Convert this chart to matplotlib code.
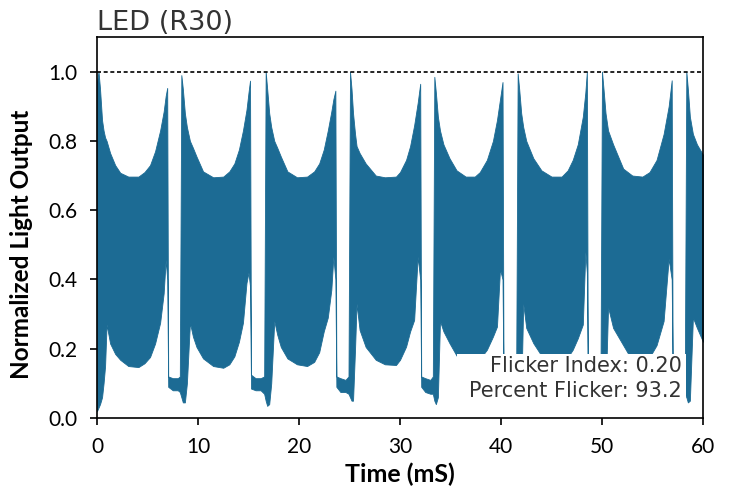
import matplotlib
matplotlib.use("Agg")
import matplotlib.pyplot as plt
from matplotlib.patches import Rectangle

# ---- data (envelope of the dense waveform) ----
time_ms = [
    0.00, 0.15, 0.30, 0.50, 0.65, 0.80, 0.95, 1.30, 1.80, 2.30, 3.10, 4.10, 4.70, 5.25, 5.75, 6.25, 6.60, 6.80, 6.95,
    7.05, 7.50, 8.00, 8.20,
    8.35, 8.50, 8.70, 8.90, 9.20, 9.50, 9.85, 10.50, 11.50, 12.50, 13.10, 13.60, 14.05, 14.45, 14.80, 15.00, 15.15,
    15.25, 15.70, 16.20, 16.55,
    16.70, 16.85, 17.05, 17.25, 17.55, 17.85, 18.20, 18.85, 19.80, 20.80, 21.50, 22.00, 22.45, 22.85, 23.20, 23.40, 23.60,
    23.70, 24.10, 24.60, 24.90,
    25.05, 25.20, 25.35, 25.55, 25.70, 26.00, 26.60, 27.60, 28.50, 29.60, 30.00, 30.60, 31.00, 31.40, 31.75, 32.00,
    32.10, 32.50, 33.00, 33.25,
    33.40, 33.55, 33.75, 33.96, 34.30, 34.90, 35.60, 36.50, 37.40, 37.90, 38.60, 39.20, 39.60, 39.90, 40.15,
    40.25, 40.70, 41.20, 41.50,
    41.65, 41.80, 42.00, 42.20, 42.50, 43.20, 44.00, 45.00, 46.00, 46.60, 47.10, 47.60, 48.10, 48.35, 48.50,
    48.60, 49.00, 49.50, 49.85,
    50.00, 50.15, 50.35, 50.60, 51.10, 52.10, 53.00, 54.00, 54.70, 55.40, 56.10, 56.60, 56.90,
    57.00, 57.50, 58.00, 58.20,
    58.35, 58.50, 58.70, 59.00, 59.40, 60.00,
]
upper_output = [
    0.97, 1.00, 0.95, 0.86, 0.83, 0.81, 0.80, 0.765, 0.73, 0.708, 0.697, 0.697, 0.71, 0.73, 0.77, 0.83, 0.885, 0.93, 0.953,
    0.12, 0.115, 0.115, 0.12,
    0.99, 0.95, 0.88, 0.84, 0.80, 0.78, 0.755, 0.712, 0.695, 0.697, 0.712, 0.735, 0.775, 0.83, 0.89, 0.94, 0.974,
    0.125, 0.115, 0.115, 0.12,
    1.00, 0.95, 0.88, 0.84, 0.80, 0.78, 0.755, 0.712, 0.695, 0.697, 0.712, 0.735, 0.775, 0.83, 0.885, 0.92, 0.945,
    0.12, 0.115, 0.11, 0.12,
    1.00, 0.95, 0.88, 0.82, 0.785, 0.765, 0.735, 0.70, 0.695, 0.697, 0.71, 0.745, 0.785, 0.845, 0.91, 0.965,
    0.12, 0.115, 0.11, 0.12,
    0.985, 0.94, 0.87, 0.83, 0.79, 0.75, 0.715, 0.697, 0.697, 0.71, 0.745, 0.80, 0.86, 0.92, 0.97,
    0.12, 0.115, 0.115, 0.12,
    0.995, 0.95, 0.88, 0.84, 0.80, 0.75, 0.715, 0.697, 0.697, 0.715, 0.745, 0.79, 0.87, 0.94, 1.00,
    0.12, 0.115, 0.115, 0.12,
    1.00, 0.95, 0.88, 0.83, 0.79, 0.72, 0.70, 0.697, 0.71, 0.745, 0.82, 0.90, 0.975,
    0.12, 0.115, 0.115, 0.12,
    1.00, 0.95, 0.87, 0.82, 0.79, 0.76,
]
lower_output = [
    0.02, 0.03, 0.04, 0.06, 0.10, 0.15, 0.27, 0.215, 0.185, 0.168, 0.15, 0.147, 0.158, 0.176, 0.215, 0.275, 0.36, 0.457, 0.40,
    0.09, 0.08, 0.08, 0.075,
    0.06, 0.045, 0.045, 0.10, 0.275, 0.235, 0.205, 0.172, 0.15, 0.145, 0.155, 0.178, 0.22, 0.275, 0.39, 0.42, 0.38,
    0.085, 0.08, 0.08, 0.07,
    0.05, 0.035, 0.04, 0.10, 0.28, 0.24, 0.205, 0.172, 0.155, 0.15, 0.162, 0.19, 0.25, 0.29, 0.37, 0.466, 0.40,
    0.09, 0.075, 0.075, 0.07,
    0.06, 0.05, 0.05, 0.20, 0.33, 0.254, 0.205, 0.168, 0.155, 0.153, 0.168, 0.206, 0.25, 0.283, 0.466, 0.40,
    0.09, 0.075, 0.07, 0.07,
    0.05, 0.04, 0.06, 0.28, 0.25, 0.216, 0.18, 0.155, 0.155, 0.17, 0.197, 0.235, 0.264, 0.43, 0.40,
    0.09, 0.08, 0.08, 0.07,
    0.06, 0.05, 0.06, 0.33, 0.26, 0.216, 0.18, 0.155, 0.155, 0.175, 0.197, 0.23, 0.27, 0.48, 0.42,
    0.09, 0.08, 0.08, 0.07,
    0.06, 0.05, 0.06, 0.32, 0.26, 0.21, 0.165, 0.155, 0.175, 0.21, 0.28, 0.46, 0.40,
    0.09, 0.08, 0.08, 0.07,
    0.06, 0.045, 0.05, 0.29, 0.26, 0.22,
]
x_ticks = [0, 10, 20, 30, 40, 50, 60]
y_ticks = [0.0, 0.2, 0.4, 0.6, 0.8, 1.0]
reference_level = 1.0
title_text = "LED (R30)"
x_label = "Time (mS)"
y_label = "Normalized Light Output"
flicker_index = "0.20"
percent_flicker = "93.2"

BLUE = "#1c6b94"
TXT = "#333333"

fig = plt.figure(figsize=(7.31, 4.91), dpi=100)
W, H = 731, 491
ax = fig.add_axes([97 / W, 1 - 418 / H, (703 - 97) / W, (418 - 37) / H])

ax.fill_between(time_ms, lower_output, upper_output, color=BLUE, edgecolor=BLUE, linewidth=0.6, zorder=2)
ax.axhline(reference_level, color="black", linewidth=1.2, linestyle=(0, (2.4, 1.6)), zorder=3)

ax.set_xlim(0, 60)
ax.set_ylim(0, 1.1)
ax.set_xticks(x_ticks)
ax.set_xticklabels([str(v) for v in x_ticks])
ax.set_yticks(y_ticks)
ax.set_yticklabels([f"{v:.1f}" for v in y_ticks])

for lab in ax.get_xticklabels() + ax.get_yticklabels():
    lab.set_fontfamily("Lato")
    lab.set_fontsize(15)
    lab.set_color("black")
ax.tick_params(axis="both", direction="out", length=5, width=1.2, color="black")
ax.tick_params(axis="y", pad=9)
ax.tick_params(axis="x", pad=9)
for sp in ax.spines.values():
    sp.set_linewidth(1.2)
    sp.set_color("black")

ax.set_xlabel(x_label, fontfamily="Lato", fontweight="bold", fontsize=18, labelpad=4)
ax.set_ylabel(y_label, fontfamily="Lato", fontweight="bold", fontsize=17.5)
ax.yaxis.set_label_coords(-0.106, 0.457)
ax.set_title(title_text, loc="left", fontfamily="DejaVu Sans", fontsize=19.5, color=TXT, pad=5)

# annotation box
ax.add_patch(Rectangle((0.594, 0.037), 0.378, 0.131, transform=ax.transAxes,
                       facecolor="white", edgecolor="none", zorder=4))
ax.text(0.965, 0.121, f"Flicker Index: {flicker_index}", transform=ax.transAxes,
        ha="right", va="baseline", fontfamily="DejaVu Sans", fontsize=15, color=TXT, zorder=5)
ax.text(0.965, 0.055, f"Percent Flicker: {percent_flicker}", transform=ax.transAxes,
        ha="right", va="baseline", fontfamily="DejaVu Sans", fontsize=15, color=TXT, zorder=5)

fig.savefig("out.png", dpi=100)
